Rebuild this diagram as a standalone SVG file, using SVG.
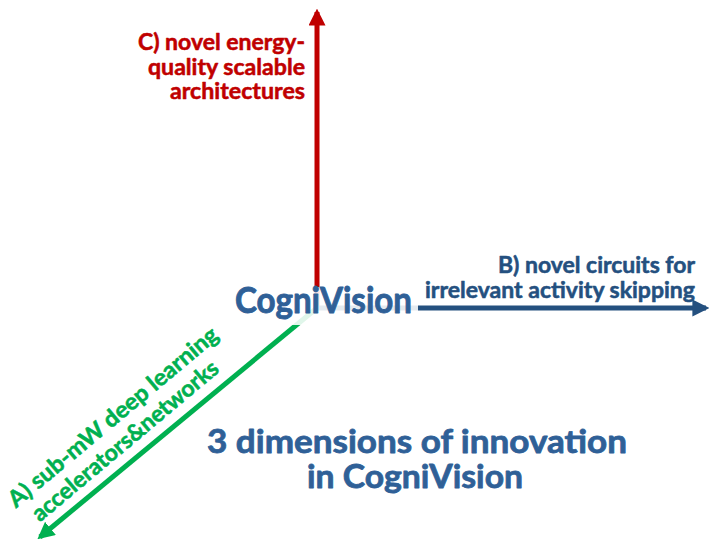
<svg xmlns="http://www.w3.org/2000/svg" width="712" height="542" viewBox="0 0 712 542">
  <style>
    text { font-family: Lato, "Open Sans", "Liberation Sans", sans-serif; font-weight: bold; stroke-width: 0.55px; stroke-linejoin: round; }
    .red { fill: #c00000; stroke: #c00000; font-size: 23px; }
    .navy { fill: #24507f; stroke: #24507f; font-size: 23px; }
    .green { fill: #00b050; stroke: #00b050; font-size: 23px; }
    .title { fill: #2f6097; stroke: #2f6097; font-size: 33px; stroke-width: 0.8px; }
    .brand { fill: #2f6097; stroke: #2f6097; font-size: 37px; stroke-width: 0.9px; }
  </style>
  <defs>
    <marker id="headRed" viewBox="0 0 10 10" refX="8" refY="5" markerWidth="3.4" markerHeight="3.4" markerUnits="strokeWidth" orient="auto">
      <path d="M0,0 L10,5 L0,10 Z" fill="#c00000"/>
    </marker>
    <marker id="headNavy" viewBox="0 0 10 10" refX="8" refY="5" markerWidth="3.4" markerHeight="3.4" markerUnits="strokeWidth" orient="auto">
      <path d="M0,0 L10,5 L0,10 Z" fill="#24507f"/>
    </marker>
    <marker id="headGreen" viewBox="0 0 10 10" refX="8" refY="5" markerWidth="3.4" markerHeight="3.4" markerUnits="strokeWidth" orient="auto">
      <path d="M0,0 L10,5 L0,10 Z" fill="#00b050"/>
    </marker>
  </defs>
  <rect width="712" height="542" fill="#ffffff"/>

  <!-- three axes radiating from a common origin -->
  <g id="connectors">
    <line x1="317" y1="308" x2="317" y2="12" stroke="#c00000" stroke-width="5" marker-end="url(#headRed)"/>
    <line x1="317" y1="308" x2="706" y2="308" stroke="#24507f" stroke-width="5" marker-end="url(#headNavy)"/>
    <line x1="317" y1="308" x2="40" y2="537" stroke="#00b050" stroke-width="5" marker-end="url(#headGreen)"/>
  </g>

  <!-- centre label on a soft white plate -->
  <g id="center">
    <rect x="228" y="287" width="190" height="38" fill="#ffffff" opacity="0.88"/>
    <text class="brand" x="235" y="313" textLength="177" lengthAdjust="spacingAndGlyphs">CogniVision</text>
  </g>

  <g id="axisC">
    <text class="red" text-anchor="end" x="305" y="50" textLength="167" lengthAdjust="spacingAndGlyphs">C) novel energy-</text>
    <text class="red" text-anchor="end" x="305" y="75" textLength="157" lengthAdjust="spacingAndGlyphs">quality scalable</text>
    <text class="red" text-anchor="end" x="305" y="99" textLength="135" lengthAdjust="spacingAndGlyphs">architectures</text>
  </g>

  <g id="axisB">
    <text class="navy" text-anchor="end" x="695" y="273" textLength="197" lengthAdjust="spacingAndGlyphs">B) novel circuits for</text>
    <text class="navy" text-anchor="end" x="695" y="298" textLength="270" lengthAdjust="spacingAndGlyphs">irrelevant activity skipping</text>
  </g>

  <g id="axisA" transform="translate(118,423) rotate(-40)">
    <text class="green" text-anchor="middle" x="0" y="0" textLength="266" lengthAdjust="spacingAndGlyphs">A) sub-mW deep learning</text>
    <text class="green" text-anchor="middle" x="-6" y="26" textLength="236" lengthAdjust="spacingAndGlyphs">accelerators&amp;networks</text>
  </g>

  <g id="title">
    <text class="title" text-anchor="middle" x="417" y="453" textLength="420" lengthAdjust="spacingAndGlyphs">3 dimensions of innovation</text>
    <text class="title" text-anchor="middle" x="415" y="488" textLength="216" lengthAdjust="spacingAndGlyphs">in CogniVision</text>
  </g>
</svg>
